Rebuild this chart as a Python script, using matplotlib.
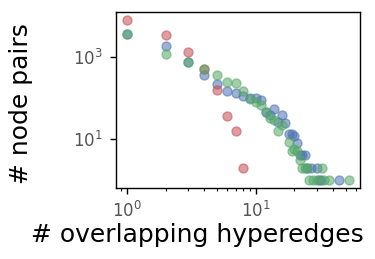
import numpy as np
import matplotlib
matplotlib.use("Agg")
import matplotlib.pyplot as plt
from matplotlib.ticker import LogLocator, NullLocator

# values
blue_x = [1, 2, 3, 4, 5, 6, 7, 8, 9, 10, 11, 12, 13, 14, 15, 16, 17, 18, 19, 20,
          21, 22, 23, 24, 25, 27, 30, 31, 32, 44]
blue_y = [3700, 1850, 740, 360, 220, 150, 133, 112, 98, 100, 91, 46, 39, 55, 26, 39, 24, 13.5, 13, 11.6,
          8, 4.1, 4, 4, 2, 2, 2, 1, 1, 1]

green_x = [1, 2, 3, 4, 5, 6, 7, 8, 9, 10, 11, 12, 13, 14, 15, 16, 18, 19, 20, 21,
           22, 23, 24, 25, 26, 28, 30, 33, 34, 37, 53]
green_y = [3700, 1180, 740, 520, 370, 250, 236, 151, 97, 80, 66, 46, 33, 29, 16, 22, 8.3, 5.2, 5.8, 5,
           3.1, 2, 2, 2, 1, 1, 1, 2, 1, 1, 1]

red_x = [1, 2, 3, 4, 5, 6, 7, 8]
red_y = [8100, 3500, 1350, 520, 157, 37, 16, 2]

fig = plt.figure(figsize=(3.75, 2.59), dpi=100)
ax = fig.add_axes([0.309, 0.274, 0.651, 0.68])

ax.scatter(blue_x, blue_y, s=42, color="#4C72B0", alpha=0.55, linewidths=1)
ax.scatter(red_x, red_y, s=42, color="#C44E52", alpha=0.55, linewidths=1)
ax.scatter(green_x, green_y, s=42, color="#55A868", alpha=0.55, linewidths=1)

ax.set_xscale("log")
ax.set_yscale("log")
ax.set_yticks([10, 1000])
ax.yaxis.set_minor_locator(NullLocator())
ax.xaxis.set_major_locator(LogLocator(base=10))
ax.xaxis.set_minor_locator(LogLocator(base=10, subs=np.arange(2, 10)))

ax.tick_params(axis="both", which="major", labelsize=12, labelcolor="#555555",
               length=4.5, width=1, pad=5)
ax.tick_params(axis="x", which="minor", length=2.5, width=0.8)
for s in ax.spines.values():
    s.set_linewidth(1)

ax.set_xlabel("# overlapping hyperedges", fontsize=18)
ax.set_ylabel("# node pairs", fontsize=18)
ax.xaxis.set_label_coords(0.332, -0.2)
ax.yaxis.set_label_coords(-0.34, 0.48)

fig.savefig("out.png", dpi=100)
